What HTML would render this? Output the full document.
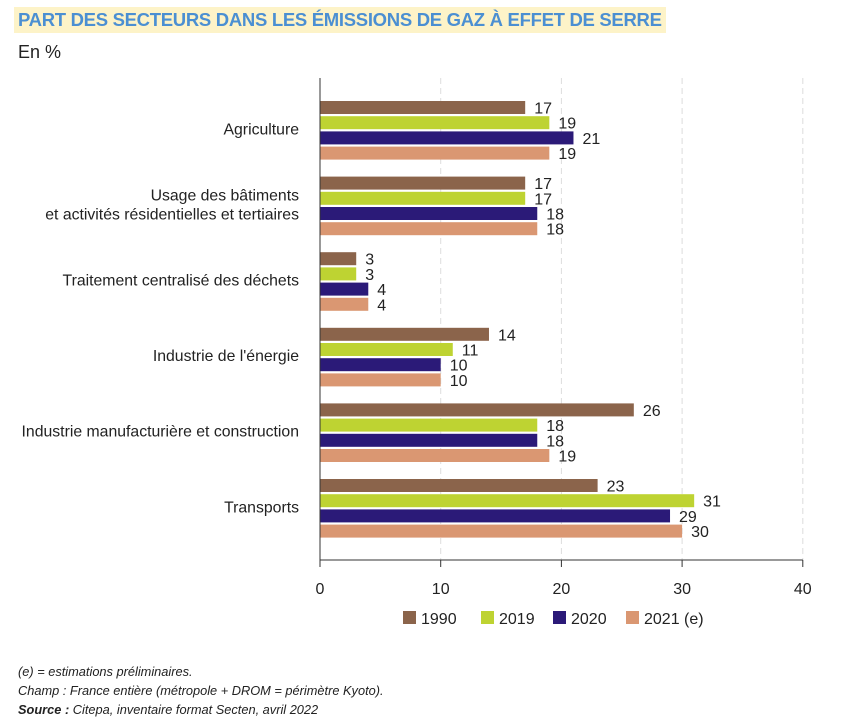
<!DOCTYPE html>
<html><head><meta charset="utf-8"><style>
body{margin:0;background:#fff;font-family:"Liberation Sans",sans-serif;}
#c{position:relative;width:862px;height:726px;}
.t{position:absolute;white-space:nowrap;color:#222;}
</style></head><body><div id="c">
<div class="t" style="left:14px;top:7px;background:#fdf3c8;color:#4b8fd2;font-weight:bold;font-size:18.5px;padding:2px 4px;letter-spacing:-0.3px">PART DES SECTEURS DANS LES ÉMISSIONS DE GAZ À EFFET DE SERRE</div>
<div class="t" style="left:18px;top:42px;font-size:18px">En %</div>
<svg id="s" width="862" height="726" style="position:absolute;left:0;top:0"></svg>
<div class="t" style="left:18px;top:664px;font-size:12.8px;font-style:italic">(e) = estimations préliminaires.</div>
<div class="t" style="left:18px;top:683px;font-size:12.8px;font-style:italic">Champ : France entière (métropole + DROM = périmètre Kyoto).</div>
<div class="t" style="left:18px;top:702px;font-size:12.8px;font-style:italic"><b>Source :</b> Citepa, inventaire format Secten, avril 2022</div>
</div>
<script>
const categories=[["Agriculture"],["Usage des bâtiments","et activités résidentielles et tertiaires"],["Traitement centralisé des déchets"],["Industrie de l'énergie"],["Industrie manufacturière et construction"],["Transports"]];
const seriesNames=["1990","2019","2020","2021 (e)"];
const v1990=[17,17,3,14,26,23];
const v2019=[19,17,3,11,18,31];
const v2020=[21,18,4,10,18,29];
const v2021=[19,18,4,10,19,30];
const ticks=[0,10,20,30,40];
const colors=["#8b644b","#bed332","#2b1a78","#da9772"];
const series=[v1990,v2019,v2020,v2021];
const NS="http://www.w3.org/2000/svg",s=document.getElementById('s');
const x=v=>320+v*12.07;
const y0=101,gp=75.6,bp=15.2,bh=13;
function mk(t,a,txt){const e=document.createElementNS(NS,t);for(const k in a)e.setAttribute(k,a[k]);if(txt!=null)e.textContent=txt;s.appendChild(e);return e;}
ticks.forEach(t=>{
 if(t>0){const g=mk('line',{x1:x(t),x2:x(t),y1:78,y2:560,stroke:'#ddd','stroke-dasharray':'6,4'});}
 const k=mk('line',{x1:x(t),x2:x(t),y1:560,y2:567,stroke:'#333'});
 const l=mk('text',{x:x(t),y:594,'text-anchor':'middle','font-size':16,fill:'#222'},t);
});
categories.forEach((c,i)=>{
 const gy=y0+i*gp;
 series.forEach((sv,j)=>{
  const by=gy+j*bp;
  const r=mk('rect',{x:x(0),y:by,width:x(sv[i])-x(0),height:bh,fill:colors[j]});
  
  
  const t=mk('text',{x:x(sv[i])+9,y:by+bh/2+6,'font-size':16,fill:'#222'},sv[i]);
  
  
 });
 const cy=gy+bp*1.5+bh/2;
 c.forEach((line,k)=>{
  const t=mk('text',{x:299,y:cy+4+(k-(c.length-1)/2)*19,'text-anchor':'end','font-size':15.8,fill:'#222'},line);
  
  
 });
});
const ax=mk('line',{x1:320,x2:320,y1:78,y2:567,stroke:'#333'});
const xa=mk('line',{x1:320,x2:x(40),y1:560,y2:560,stroke:'#333'});
seriesNames.forEach((n,j)=>{
 const r=mk('rect',{x:[403,481,553,626][j],y:611,width:13,height:13,fill:colors[j]});
 
 
 const t=mk('text',{x:[421,499,571,644][j],y:624,'font-size':16,fill:'#222'},n);
 
 
});
</script></body></html>
